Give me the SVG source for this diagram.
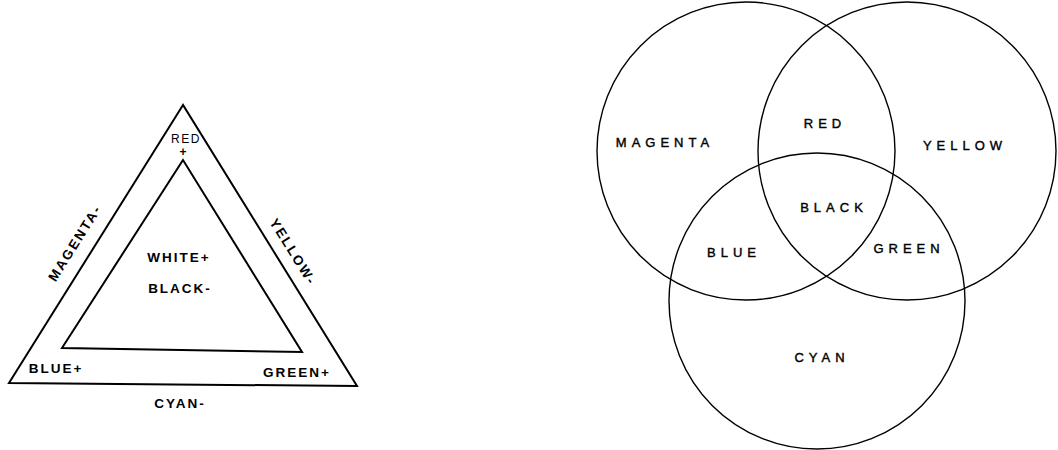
<svg xmlns="http://www.w3.org/2000/svg" width="1058" height="450" viewBox="0 0 1058 450">
<style>
.tri{fill:none;stroke:#000;stroke-width:2;stroke-linejoin:miter}
.circ{fill:none;stroke:#000;stroke-width:1.4}
.t{font-family:"Liberation Sans",Arial,sans-serif;font-weight:bold;font-size:13.5px;letter-spacing:2px;fill:#000;text-anchor:middle;dominant-baseline:central}
.v{font-family:"Liberation Sans",Arial,sans-serif;font-size:13px;letter-spacing:5px;fill:#000;stroke:#000;stroke-width:0.4;text-anchor:middle;dominant-baseline:central}
</style>
<rect width="1058" height="450" fill="#fff"/>
<g id="triangle">
<polygon class="tri" points="183,105 9,383 357,386"/>
<polygon class="tri" points="183,160 62,348 302,352"/>
</g>
<g id="triangle-labels">
<text class="t" x="186" y="139" style="font-weight:normal;font-size:12px;letter-spacing:1.5px">RED</text>
<text class="t" x="184" y="152" style="font-size:12px">+</text>
<text class="t" x="75" y="243" transform="rotate(-58 75 243)">MAGENTA-</text>
<text class="t" x="293" y="252" transform="rotate(58 293 252)">YELLOW-</text>
<text class="t" x="179" y="257">WHITE+</text>
<text class="t" x="180" y="288">BLACK-</text>
<text class="t" x="56" y="368">BLUE+</text>
<text class="t" x="297" y="372">GREEN+</text>
<text class="t" x="180" y="403">CYAN-</text>
</g>
<g id="venn">
<circle id="magenta" class="circ" cx="746" cy="151" r="149"/>
<circle id="yellow" class="circ" cx="907" cy="151" r="149"/>
<circle id="cyan" class="circ" cx="817" cy="301" r="148"/>
</g>
<g id="venn-labels">
<text class="v" x="665" y="142">MAGENTA</text>
<text class="v" x="825" y="123">RED</text>
<text class="v" x="965" y="145">YELLOW</text>
<text class="v" x="834" y="207">BLACK</text>
<text class="v" x="734" y="252">BLUE</text>
<text class="v" x="909" y="248">GREEN</text>
<text class="v" x="822" y="357">CYAN</text>
</g>
</svg>
